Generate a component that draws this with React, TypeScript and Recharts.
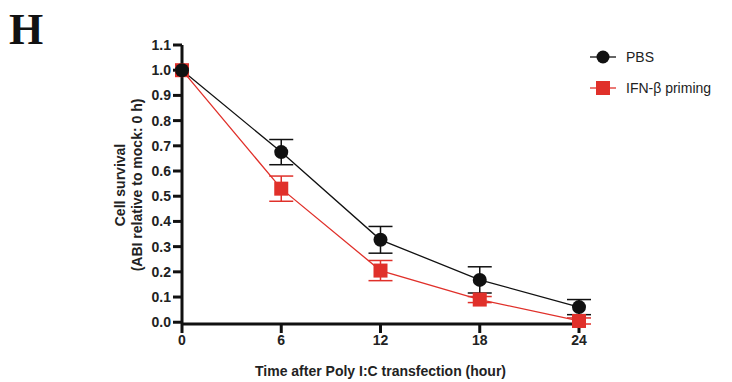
import React from "react";
import { ErrorBar, Line, LineChart, XAxis, YAxis } from "recharts";

const hours = [0, 6, 12, 18, 24];
const pbs = [1.0, 0.675, 0.327, 0.168, 0.06];
const pbsSd = [0, 0.05, 0.053, 0.052, 0.03];
const ifn = [1.0, 0.53, 0.205, 0.09, 0.005];
const ifnSd = [0, 0.05, 0.04, 0.012, 0.012];
const yTicks = [0, 0.1, 0.2, 0.3, 0.4, 0.5, 0.6, 0.7, 0.8, 0.9, 1.0, 1.1];
const seriesNames = ["PBS", "IFN-β priming"];

const RED = "#e0302a";
const BLACK = "#111111";
const FONT = "'Liberation Sans', Arial, sans-serif";

const data = hours.map((h, i) => ({
    hour: h,
    pbs: pbs[i],
    pbsErr: pbsSd[i],
    ifn: ifn[i],
    ifnErr: ifnSd[i],
}));

const SquareDot = (props: any) => {
    const { cx, cy } = props;
    if (cx == null || cy == null) return null;
    return <rect x={cx - 7} y={cy - 7} width={14} height={14} fill={RED} />;
};

const CircleDot = (props: any) => {
    const { cx, cy } = props;
    if (cx == null || cy == null) return null;
    return <circle cx={cx} cy={cy} r={7} fill={BLACK} />;
};

const LegendBox = () => (
    <svg width={140} height={60} style={{ position: "absolute", left: 590, top: 45 }}>
        <line x1={0} y1={12} x2={26} y2={12} stroke={BLACK} strokeWidth={1.3} />
        <circle cx={13} cy={12} r={6.5} fill={BLACK} />
        <text x={36} y={17} fontFamily={FONT} fontSize={14} fill="#222">{seriesNames[0]}</text>
        <line x1={0} y1={43} x2={26} y2={43} stroke={RED} strokeWidth={1.3} />
        <rect x={6} y={36} width={14} height={14} fill={RED} />
        <text x={36} y={48} fontFamily={FONT} fontSize={14} fill="#222">{seriesNames[1]}</text>
    </svg>
);

const YLabel = () => (
    <text
        transform="translate(125, 185) rotate(-90)"
        textAnchor="middle"
        fontFamily={FONT}
        fontWeight="bold"
        fontSize={14}
        fill="#222"
    >
        <tspan x={0} dy={0}>Cell survival</tspan>
        <tspan x={0} dy={17}>(ABI relative to mock: 0 h)</tspan>
    </text>
);

export default function App() {
    const tickStyle = { fill: "#222", fontSize: 14, fontWeight: "bold" as const, fontFamily: FONT };
    return (
        <div style={{ position: "absolute", left: 0, top: 0, width: 732, height: 382, background: "#fff" }}>
            <div
                style={{
                    position: "absolute",
                    left: 9,
                    top: 4,
                    fontFamily: "'Liberation Serif', 'Times New Roman', serif",
                    fontWeight: "bold",
                    fontSize: 44,
                    color: "#111",
                }}
            >
                H
            </div>
            <LineChart width={732} height={382} data={data} margin={{ top: 45, right: 153, bottom: 0, left: 0 }}>
                <XAxis
                    dataKey="hour"
                    type="number"
                    domain={[0, 24]}
                    ticks={hours}
                    tick={tickStyle}
                    tickLine={{ stroke: BLACK, strokeWidth: 3 }}
                    axisLine={{ stroke: BLACK, strokeWidth: 3 }}
                    tickSize={9}
                    height={58}
                    label={{
                        value: "Time after Poly I:C transfection (hour)",
                        position: "insideBottom",
                        offset: 6,
                        style: { fill: "#222", fontSize: 14, fontWeight: "bold", fontFamily: FONT },
                    }}
                />
                <YAxis
                    type="number"
                    domain={[0, 1.1]}
                    ticks={yTicks}
                    interval={0}
                    tickFormatter={(v: number) => v.toFixed(1)}
                    tick={tickStyle}
                    tickLine={{ stroke: BLACK, strokeWidth: 3 }}
                    axisLine={{ stroke: BLACK, strokeWidth: 3 }}
                    tickSize={9}
                    width={182}
                    label={<YLabel />}
                />
                <Line
                    type="linear"
                    dataKey="ifn"
                    stroke={RED}
                    strokeWidth={1.3}
                    dot={<SquareDot />}
                    isAnimationActive={false}
                >
                    <ErrorBar dataKey="ifnErr" direction="y" width={12} stroke={RED} strokeWidth={1.5} />
                </Line>
                <Line
                    type="linear"
                    dataKey="pbs"
                    stroke={BLACK}
                    strokeWidth={1.3}
                    dot={<CircleDot />}
                    isAnimationActive={false}
                >
                    <ErrorBar dataKey="pbsErr" direction="y" width={12} stroke={BLACK} strokeWidth={1.5} />
                </Line>
            </LineChart>
            <LegendBox />
        </div>
    );
}
